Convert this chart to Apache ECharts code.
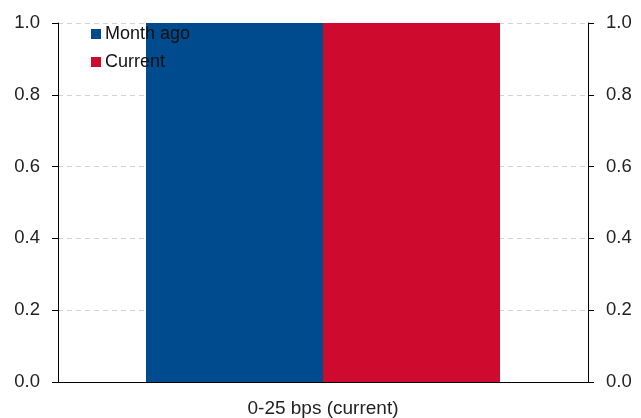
<!DOCTYPE html>
<html>
<head>
<meta charset="utf-8">
<script src="https://cdn.jsdelivr.net/npm/echarts@6/dist/echarts.min.js"></script>
<style>
  html, body { margin: 0; padding: 0; background: #fff; }
  #chart { width: 641px; height: 418px; }
</style>
</head>
<body>
<div id="chart"></div>
<script>
// Probability by rate range
const categories = ['0-25 bps (current)'];
const monthAgo = [1.0];
const current = [1.0];
const seriesNames = ['Month ago', 'Current'];

const FONT = '"Liberation Sans", Arial, sans-serif';

const yAxisBase = {
  type: 'value',
  min: 0,
  max: 1,
  interval: 0.2,
  axisLine: { show: true, lineStyle: { color: '#000', width: 1 } },
  axisTick: { show: true, length: 6, lineStyle: { color: '#000' } },
  axisLabel: {
    color: '#222',
    fontSize: 18.5,
    fontFamily: FONT,
    formatter: v => v.toFixed(1)
  }
};

const chart = echarts.init(document.getElementById('chart'));
chart.setOption({
  animation: false,
  grid: { left: 58, right: 53, top: 23, bottom: 34 },
  legend: {
    orient: 'vertical',
    left: 86,
    top: 20,
    padding: 5,
    itemWidth: 10,
    itemHeight: 10,
    itemGap: 10,
    icon: 'rect',
    textStyle: { fontSize: 18, fontFamily: FONT, color: '#111', padding: [0, 0, 0, -1] },
    data: seriesNames
  },
  xAxis: {
    type: 'category',
    data: categories,
    axisLine: { show: true, lineStyle: { color: '#000', width: 1 } },
    axisTick: { show: false },
    axisLabel: { color: '#222', fontSize: 19, fontFamily: FONT, margin: 17 }
  },
  yAxis: [
    Object.assign({}, yAxisBase, {
      position: 'left',
      axisLabel: Object.assign({}, yAxisBase.axisLabel, { margin: 18 }),
      splitLine: { show: true, lineStyle: { color: '#d2d2d2', type: [5, 4] } }
    }),
    Object.assign({}, yAxisBase, {
      position: 'right',
      axisLabel: Object.assign({}, yAxisBase.axisLabel, { margin: 18 }),
      splitLine: { show: false }
    })
  ],
  series: [
    {
      name: seriesNames[0],
      type: 'bar',
      data: monthAgo,
      barWidth: 177,
      barGap: '0%',
      itemStyle: { color: '#004b8d' }
    },
    {
      name: seriesNames[1],
      type: 'bar',
      data: current,
      barWidth: 177,
      itemStyle: { color: '#cf0a2f' }
    }
  ]
});
</script>
</body>
</html>
